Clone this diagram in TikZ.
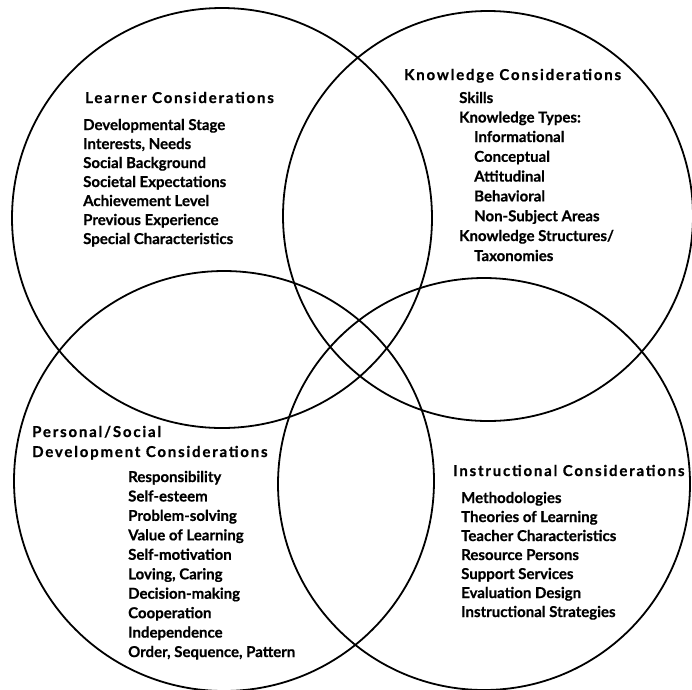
\documentclass[tikz,border=0pt]{standalone}
\usepackage{fontspec}
\setmainfont{Lato}[BoldFeatures={FakeBold=0.6}]
\newfontfamily\ttlfont{Lato}[LetterSpace=12,BoldFeatures={FakeBold=0.8}]
\begin{document}
\begin{tikzpicture}[x=1pt,y=-1pt,
  circ/.style={draw=black,line width=1.8pt},
  ttl/.style={anchor=base west,inner sep=0pt,font=\ttlfont\bfseries\fontsize{15}{16}\selectfont},
  itm/.style={anchor=base west,inner sep=0pt,font=\bfseries\fontsize{15}{16}\selectfont}]
\useasboundingbox (0,0) rectangle (692,689);
\fill[white] (0,0) rectangle (692,689);
% circles
\draw[circ] (222,218) circle[radius=210pt];
\draw[circ] (488,216) circle[radius=205pt];
\draw[circ] (224,481) circle[radius=210pt];
\draw[circ] (484,484) circle[radius=206pt];
% Learner
\node[ttl] (lt) at (85,103) {Learner Considerations};
\foreach \t [count=\i] in {Developmental Stage,{Interests, Needs},Social Background,Societal Expectations,Achievement Level,Previous Experience,Special Characteristics}
  \node[itm] (l\i) at (83,{130+(\i-1)*19}) {\t};
% Knowledge
\node[ttl] (kt) at (404,80) {Knowledge Considerations};
\node[itm] (k1) at (459,103) {Skills};
\node[itm] (k2) at (459,122.5) {Knowledge Types:};
\foreach \t [count=\i] in {Informational,Conceptual,Attitudinal,Behavioral,Non-Subject Areas}
  \node[itm] (ks\i) at (474,{142+(\i-1)*19.8}) {\t};
\node[itm] (k3) at (459,241) {Knowledge Structures/};
\node[itm] (k4) at (474,261) {Taxonomies};
% Personal / Social
\node[ttl] (pt1) at (32,437) {Personal/Social};
\node[ttl] (pt2) at (32,457) {Development Considerations};
\foreach \t [count=\i] in {Responsibility,Self-esteem,Problem-solving,Value of Learning,Self-motivation,{Loving, Caring},Decision-making,Cooperation,Independence,{Order, Sequence, Pattern}}
  \node[itm] (p\i) at (128,{482+(\i-1)*19.45}) {\t};
% Instructional
\node[ttl] (it) at (453,476) {Instructional Considerations};
\foreach \t [count=\i] in {Methodologies,Theories of Learning,Teacher Characteristics,Resource Persons,Support Services,Evaluation Design,Instructional Strategies}
  \node[itm] (i\i) at (461,{503+(\i-1)*19}) {\t};
\end{tikzpicture}
\end{document}
